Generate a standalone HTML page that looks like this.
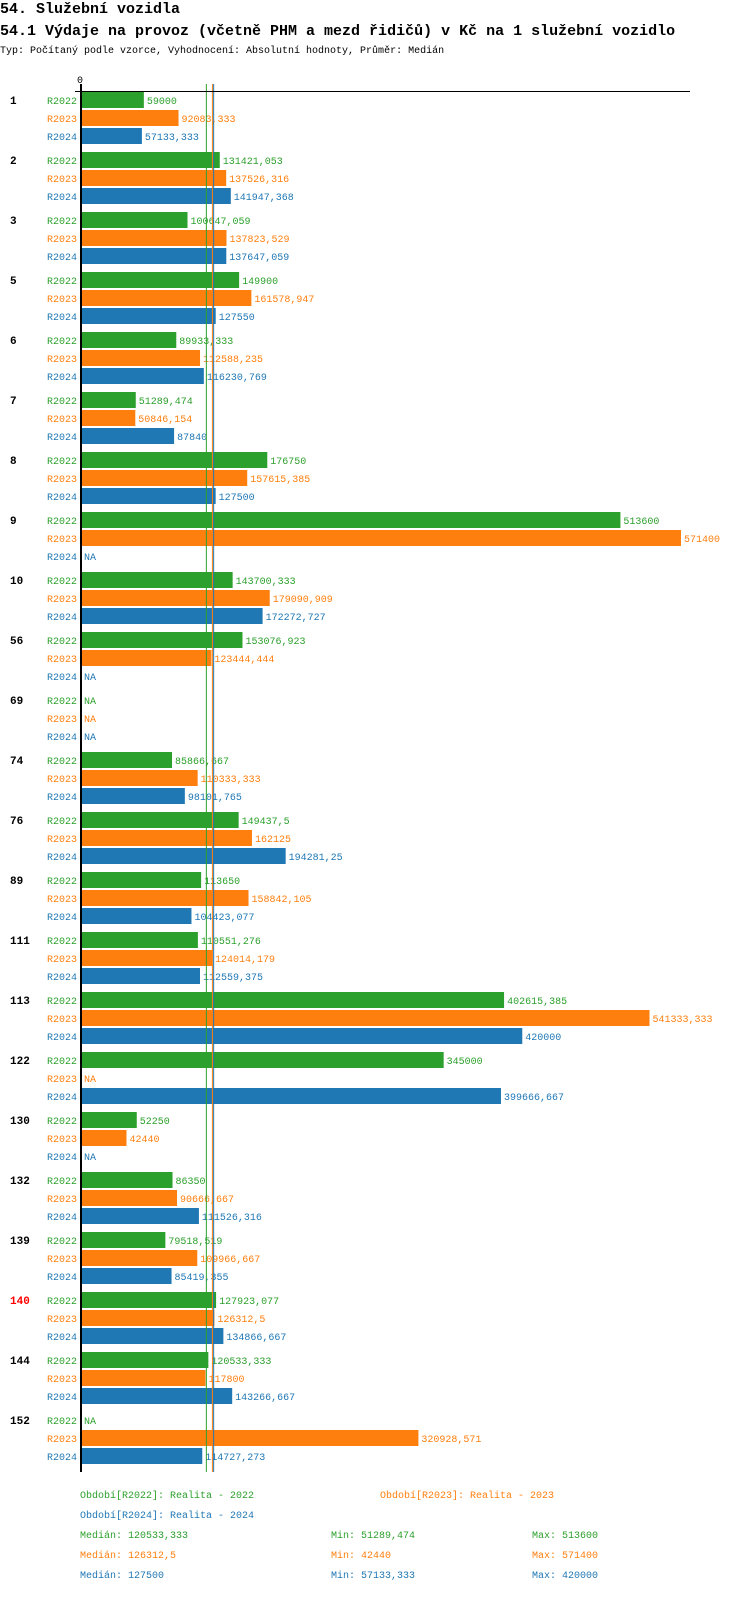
<!DOCTYPE html>
<html><head><meta charset="utf-8"><style>
body{margin:0;background:#fff;width:750px;height:1592px;overflow:hidden;font-family:"Liberation Mono","DejaVu Sans Mono",monospace}
svg text{font-family:"Liberation Mono","DejaVu Sans Mono",monospace}
</style></head><body>
<svg id="c" width="750" height="1592" xmlns="http://www.w3.org/2000/svg">
<text x="0" y="13" font-size="15" font-weight="bold">54. Služební vozidla</text>
<text x="0" y="35" font-size="15" font-weight="bold">54.1 Výdaje na provoz (včetně PHM a mezd řidičů) v Kč na 1 služební vozidlo</text>
<text x="0" y="53" font-size="10">Typ: Počítaný podle vzorce, Vyhodnocení: Absolutní hodnoty, Průměr: Medián</text>
<g id="plot"></g>
</svg>
<script>
const categories=["1","2","3","5","6","7","8","9","10","56","69","74","76","89","111","113","122","130","132","139","140","144","152"];
const r2022=[59000,131421.053,100647.059,149900,89933.333,51289.474,176750,513600,143700.333,153076.923,null,85866.667,149437.5,113650,110551.276,402615.385,345000,52250,86350,79518.519,127923.077,120533.333,null];
const r2023=[92083.333,137526.316,137823.529,161578.947,112588.235,50846.154,157615.385,571400,179090.909,123444.444,null,110333.333,162125,158842.105,124014.179,541333.333,null,42440,90666.667,109966.667,126312.5,117800,320928.571];
const r2024=[57133.333,141947.368,137647.059,127550,116230.769,87840,127500,null,172272.727,null,null,98101.765,194281.25,104423.077,112559.375,420000,399666.667,null,111526.316,85419.355,134866.667,143266.667,114727.273];
const seriesNames=["R2022","R2023","R2024"];
const medians=[120533.333,126312.5,127500];
const mins=["51289,474","42440","57133,333"];
const maxs=["513600","571400","420000"];
const colors=["#2ca02c","#ff7f0e","#1f77b4"];
const NS="http://www.w3.org/2000/svg";
const g=document.getElementById('plot');
const x0=82, k=599/571400, top0=92, groupH=60, barPitch=18, barH=16;
const xs=v=>x0+v*k;
function el(t,a,txt){const e=document.createElementNS(NS,t);for(const n in a)e.setAttribute(n,a[n]);if(txt!=null)e.textContent=txt;g.appendChild(e);return e;}
function fmt(v){let s=(Math.round(v*1000)/1000).toString();return s.replace('.',',');}
const series=[r2022,r2023,r2024];
categories.forEach((c,i)=>{
  const gy=top0+i*groupH;
  const lab=el('text',{x:10,y:gy+12,'font-size':11,'font-weight':'bold',fill:c==="140"?"#ff0000":"#000"},c);
  
  
  series.forEach((s,j)=>{
    const y=gy+j*barPitch;
    const sl=el('text',{x:77,y:y+12,'font-size':10,fill:colors[j],'text-anchor':'end'},seriesNames[j]);
    
    
    const v=s[i];
    if(v==null){
      const na=el('text',{x:x0+2,y:y+12,'font-size':10,fill:colors[j]},'NA');
      
      
      return;
    }
    const r=el('rect',{x:x0,y:y,width:xs(v)-x0,height:barH,fill:colors[j]});
    
    
    const t=el('text',{x:xs(v)+3,y:y+12,'font-size':10,fill:colors[j]},fmt(v));
    
    
  });
});
medians.forEach((m,j)=>{
  const l=el('line',{x1:xs(m)-2,x2:xs(m)-2,y1:84,y2:1472,stroke:colors[j],'stroke-width':1});
  
  
});
const ax=el('line',{x1:81,x2:81,y1:84,y2:1472,stroke:'#000','stroke-width':2});


const hx=el('line',{x1:75,x2:690,y1:91.5,y2:91.5,stroke:'#000','stroke-width':1});


const z=el('text',{x:80,y:83,'font-size':10,'text-anchor':'middle'},'0');


const leg=[[80,1498,"Období[R2022]: Realita - 2022",0],[380,1498,"Období[R2023]: Realita - 2023",1],[80,1518,"Období[R2024]: Realita - 2024",2]];
leg.forEach(a=>{const t=el('text',{x:a[0],y:a[1],'font-size':10,fill:colors[a[3]]},a[2]);
  
  });
[0,1,2].forEach(j=>{
  const y=1538+j*20;
  const a=el('text',{x:80,y:y,'font-size':10,fill:colors[j]},'Medián: '+fmt(medians[j]));
  
  
  const b=el('text',{x:331,y:y,'font-size':10,fill:colors[j]},'Min: '+mins[j]);
  
  
  const d=el('text',{x:532,y:y,'font-size':10,fill:colors[j]},'Max: '+maxs[j]);
  
  
});
</script>
</body></html>
